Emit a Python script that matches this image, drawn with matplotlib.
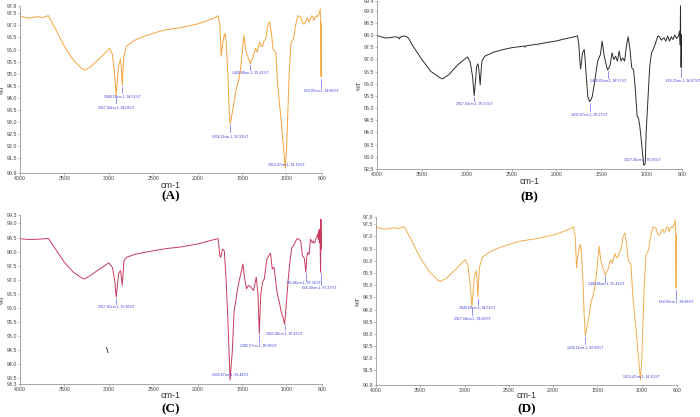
import matplotlib
matplotlib.use("Agg")
import matplotlib.pyplot as plt
import numpy as np

# spectrum A (same sample shown again in D)
wn_a = [4000, 3950, 3900, 3850, 3800, 3750, 3700, 3680, 3600, 3500, 3400, 3300, 3270, 3200,
        3100, 3000, 2990, 2960, 2935, 2917, 2900, 2890, 2870, 2860, 2849, 2840, 2830, 2800,
        2700, 2600, 2500, 2400, 2350, 2300, 2200, 2100, 2000, 1900, 1800, 1770, 1750, 1740,
        1735, 1720, 1700, 1690, 1680, 1670, 1660, 1650, 1636, 1620, 1600, 1570, 1540, 1520,
        1500, 1480, 1460, 1440, 1420, 1409, 1395, 1380, 1365, 1350, 1330, 1310, 1300, 1285,
        1270, 1255, 1240, 1225, 1210, 1190, 1170, 1150, 1135, 1120, 1100, 1080, 1060, 1040,
        1025, 1013, 1000, 990, 970, 950, 920, 900, 885, 870, 840, 820, 800, 790, 775, 760,
        745, 730, 715, 700, 690, 680, 665, 650, 640, 630, 620, 615, 612, 610, 607, 603, 600]
t_a = [97.39, 97.33, 97.30, 97.33, 97.36, 97.32, 97.38, 97.40, 96.85, 96.12, 95.57, 95.20, 95.15, 95.30,
       95.65, 96.02, 96.05, 95.80, 95.00, 94.10, 94.90, 95.30, 95.60, 95.30, 94.52, 95.20, 95.75, 96.15,
       96.40, 96.55, 96.67, 96.78, 96.82, 96.85, 96.90, 96.98, 97.06, 97.18, 97.33, 97.40, 97.00, 96.20,
       95.72, 96.20, 96.60, 96.67, 96.30, 95.70, 95.00, 93.90, 92.93, 93.20, 93.60, 94.30, 94.70, 95.10,
       95.80, 96.60, 96.00, 95.75, 95.55, 95.40, 95.55, 95.65, 95.85, 96.05, 95.90, 96.20, 96.30, 96.15,
       96.12, 96.35, 96.40, 96.60, 97.00, 97.15, 96.70, 96.00, 95.95, 95.85, 94.60, 93.80, 93.10, 92.20,
       91.60, 91.10, 91.80, 92.80, 95.00, 96.25, 96.45, 96.95, 97.20, 97.40, 97.35, 97.10, 97.05, 97.10, 97.25, 97.30,
       97.15, 97.25, 97.40, 97.35, 97.20, 97.30, 97.40, 97.35, 97.45, 97.50, 97.68, 96.90, 95.80, 94.88, 96.80, 97.10, 97.10]

# spectrum B
wn_b = [4000, 3950, 3900, 3850, 3800, 3760, 3750, 3740, 3700, 3680, 3650, 3600, 3500, 3400,
        3300, 3270, 3200, 3100, 3000, 2990, 2960, 2935, 2917, 2900, 2890, 2875, 2865, 2850,
        2840, 2830, 2800, 2700, 2600, 2500, 2400, 2360, 2350, 2340, 2300, 2200, 2100, 2000,
        1900, 1800, 1765, 1750, 1740, 1730, 1720, 1710, 1690, 1680, 1670, 1650, 1631, 1615,
        1600, 1570, 1540, 1510, 1490, 1470, 1450, 1430, 1415, 1400, 1380, 1360, 1340, 1320,
        1300, 1280, 1260, 1240, 1220, 1200, 1180, 1160, 1140, 1120, 1100, 1085, 1070, 1050,
        1040, 1027, 1015, 1010, 1000, 980, 960, 940, 920, 900, 870, 850, 830, 815, 800, 780,
        760, 740, 720, 700, 680, 660, 640, 625, 620, 617, 614, 612, 610, 606, 603, 600]
t_b = [97.99, 97.92, 97.88, 97.90, 97.93, 97.90, 97.84, 97.92, 97.96, 97.95, 97.88, 97.55, 97.00, 96.51,
       96.25, 96.20, 96.37, 96.78, 97.08, 97.10, 96.88, 96.30, 95.52, 96.20, 96.70, 96.82, 96.60, 95.95,
       96.50, 96.93, 97.13, 97.30, 97.40, 97.48, 97.53, 97.55, 97.50, 97.56, 97.58, 97.63, 97.70, 97.76,
       97.85, 97.93, 97.97, 97.60, 97.00, 96.61, 96.90, 97.27, 97.41, 97.00, 96.45, 95.48, 95.27, 95.35,
       95.48, 96.17, 96.93, 97.20, 97.75, 97.20, 96.86, 96.57, 96.65, 96.79, 97.27, 97.00, 97.13, 96.93,
       97.34, 96.93, 97.06, 96.93, 97.55, 97.93, 97.41, 96.65, 96.58, 95.76, 94.66, 94.60, 94.24, 93.56,
       93.14, 92.66, 92.68, 92.73, 93.97, 95.35, 96.72, 97.27, 97.41, 97.61, 97.96, 97.93, 97.79, 97.85, 97.89, 97.75,
       97.96, 97.75, 97.93, 97.82, 98.00, 97.86, 97.96, 98.17, 97.60, 99.20, 97.40, 96.90, 96.67, 97.30, 98.03, 98.03]

# spectrum C
wn_c = [4000, 3900, 3800, 3700, 3680, 3600, 3500, 3400, 3300, 3270, 3200, 3100, 3000, 2960,
        2935, 2917, 2900, 2890, 2870, 2860, 2850, 2840, 2830, 2800, 2700, 2500, 2350, 2200,
        2000, 1800, 1770, 1750, 1740, 1720, 1700, 1680, 1660, 1635, 1610, 1590, 1570, 1540,
        1510, 1490, 1470, 1450, 1430, 1400, 1370, 1340, 1320, 1306, 1290, 1270, 1250, 1220,
        1200, 1180, 1160, 1140, 1120, 1100, 1080, 1060, 1040, 1021, 1000, 980, 960, 940,
        920, 900, 880, 860, 840, 820, 800, 790, 782, 770, 760, 745, 730, 710, 700, 690,
        680, 670, 660, 650, 640, 635, 630, 625, 620, 616, 612, 608, 604, 600]
t_c = [98.46, 98.43, 98.44, 98.46, 98.47, 98.09, 97.62, 97.27, 97.06, 97.03, 97.17, 97.39, 97.60, 97.44,
       97.00, 96.39, 96.90, 97.21, 97.33, 97.15, 96.80, 97.20, 97.68, 97.80, 97.91, 98.03, 98.11, 98.16,
       98.27, 98.44, 98.46, 97.85, 97.80, 98.09, 98.03, 97.03, 95.62, 93.44, 94.45, 95.86, 96.27, 96.86,
       97.27, 97.56, 97.03, 96.68, 96.80, 96.74, 96.62, 97.09, 96.45, 95.08, 96.45, 96.92, 97.03, 97.74,
       97.85, 97.95, 97.38, 97.44, 96.92, 96.45, 96.21, 95.86, 95.68, 95.42, 96.21, 97.03, 97.68, 98.15,
       98.21, 98.35, 98.46, 98.44, 98.38, 97.85, 97.78, 97.50, 97.27, 97.85, 97.97, 97.90, 98.44, 98.32, 98.38, 98.30,
       98.32, 98.44, 98.50, 98.62, 98.44, 98.75, 98.32, 98.80, 98.09, 97.27, 99.15, 98.09, 98.56, 98.50]

# peak labels: wavenumber, line top, line bottom, text x, text y, text
notes_a = [(2849.58, 94.45, 94.20, 2852, 94.08, "2849.58cm-1, 94.51%T"),
           (2917.04, 94.05, 93.78, 2911, 93.62, "2917.04cm-1, 94.08%T"),
           (1636.11, 92.87, 92.58, 1639, 92.42, "1636.11cm-1, 92.93%T"),
           (1409.86, 95.36, 95.15, 1403, 95.06, "1409.86cm-1, 95.41%T"),
           (1013.47, None, None, 1006, 91.25, "1013.47cm-1, 91.10%T"),
           (610.05, 94.80, 94.42, 610, 94.32, "610.05cm-1, 94.88%T")]
notes_b = [(2917.03, 95.45, 95.30, 2917, 95.19, "2917.03cm-1, 95.52%T"),
           (1631.07, 95.20, 94.88, 1632, 94.72, "1631.07cm-1, 95.27%T"),
           (1430.03, 96.52, 96.24, 1416, 96.14, "1430.03cm-1, 96.57%T"),
           (1027.45, None, None, 1037, 92.90, "1027.45cm-1, 92.93%T"),
           (616.25, 96.60, 96.28, 591, 96.14, "616.25cm-1, 96.67%T")]
notes_c = [(2917.82, 96.35, 96.15, 2917, 96.05, "2917.82cm-1, 96.36%T"),
           (1635.67, None, None, 1627, 93.65, "1635.67cm-1, 93.44%T"),
           (1306.57, 95.04, 94.78, 1311, 94.66, "1306.57cm-1, 95.08%T"),
           (1021.06, 95.40, 95.20, 1024, 95.10, "1021.06cm-1, 95.42%T"),
           (781.86, 97.25, 96.97, 812, 96.89, "781.86cm-1, 97.34%T"),
           (616.30, 97.25, 96.82, 634, 96.72, "616.30cm-1, 97.27%T")]

yt_a = [90.9, 91.5, 92.0, 92.5, 93.0, 93.5, 94.0, 94.5, 95.0, 95.5, 96.0, 96.5, 97.0, 97.5, 97.8]
yt_b = [92.5, 93.0, 93.5, 94.0, 94.5, 95.0, 95.5, 96.0, 96.5, 97.0, 97.5, 98.0, 98.5, 99.0, 99.4]
yt_c = [93.3, 93.5, 94.0, 94.5, 95.0, 95.5, 96.0, 96.5, 97.0, 97.5, 98.0, 98.5, 99.0, 99.3]
xt = [4000, 3500, 3000, 2500, 2000, 1500, 1000, 600]

W, H = 700, 417
fig = plt.figure(figsize=(7, 4.17), dpi=100)


def panel(box, wn, t, yt, color, notes, letter, xlab_y, letter_y):
    l, r, top, bot = box
    ax = fig.add_axes([l / W, 1 - bot / H, (r - l) / W, (bot - top) / H])
    ax.plot(wn, t, color=color, lw=0.7)
    ax.set_xlim(4000, 600)
    ax.set_ylim(yt[0], yt[-1])
    ax.set_xticks(xt)
    ax.set_yticks(yt)
    ax.set_yticklabels(["%.1f" % v for v in yt])
    for s in ["top", "right"]:
        ax.spines[s].set_visible(False)
    for s in ["left", "bottom"]:
        ax.spines[s].set_color("#999999")
        ax.spines[s].set_linewidth(0.6)
    ax.tick_params(length=1.5, width=0.5, color="#999999", labelsize=3.8,
                   labelcolor="#444444", pad=0.8)
    for lab in ax.get_xticklabels() + ax.get_yticklabels():
        lab.set_family("Liberation Sans")
    for wnl, y0, y1, tx, ty, txt in notes:
        if y0 is not None:
            ax.plot([wnl, wnl], [y0, y1], color="#6666ff", lw=0.5)
        ax.text(tx, ty, txt, fontsize=2.5, color="#3c3cd8", ha="center", va="center",
                family="Liberation Sans")
    cx = (l + r) / 2
    fig.text(cx / W, 1 - xlab_y / H, "cm-1", ha="center", va="center", fontsize=6.5,
             family="Liberation Sans", color="#333333")
    fig.text((l - 18) / W, 1 - (top + bot) / 2 / H, "%T", rotation=90, ha="center",
             va="center", fontsize=4.5, family="Liberation Sans", color="#333333")
    fig.text(cx / W, 1 - letter_y / H, letter, ha="center", va="center", fontsize=9.5,
             fontweight="bold", family="Liberation Serif")
    return ax


panel((20, 322, 6, 173), wn_a, t_a, yt_a, "#f7a43c", notes_a, "(A)", 185, 196)
panel((377, 682, 1, 169), wn_b, t_b, yt_b, "#2b2b2b", notes_b, "(B)", 182, 197)
ax_c = panel((20, 322, 215, 384), wn_c, t_c, yt_c, "#c83a5e", notes_c, "(C)", 396, 409)
panel((376, 677, 217, 385), wn_a, t_a, yt_a, "#f0ad4c", notes_a, "(D)", 396, 409)

# stray mark in panel C
ax_c.text(3020, 94.5, "\\", fontsize=5, fontweight="bold", ha="center", va="center")

fig.savefig("out.png", dpi=100)
